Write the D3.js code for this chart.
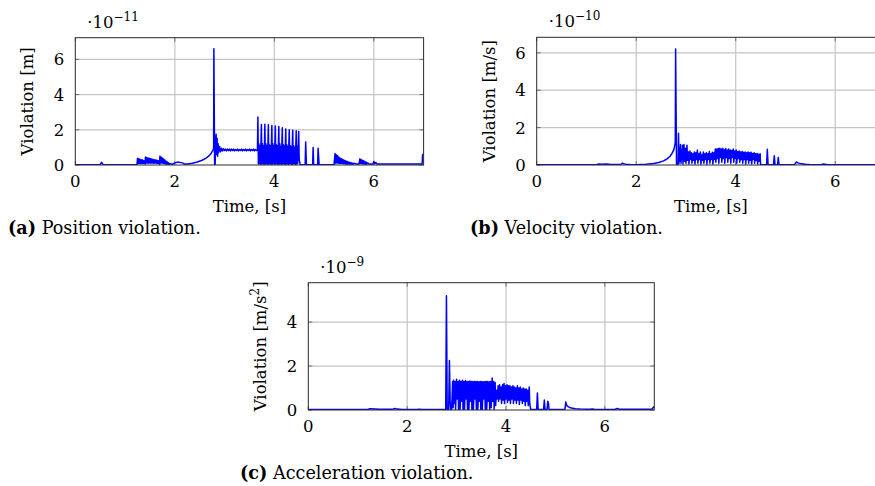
<!DOCTYPE html>
<html>
<head>
<meta charset="utf-8">
<script src="https://cdn.jsdelivr.net/npm/d3@7"></script>
<style>
  html, body { margin: 0; padding: 0; background: #fff; }
  svg text { font-family: "DejaVu Serif", serif; fill: #000; }
</style>
</head>
<body>
<div id="chart"></div>
<script>
// time ticks shared by the three panels
var timeTicks = [0, 2, 4, 6];

// (a) position violation, values in 1e-11 m
var positionTicks = [0, 2, 4, 6];
var positionData = [
  [0, 0.02], [0.5, 0.02], [0.53, 0.15], [0.56, 0.02], [1.24, 0.02],
  [1.25, 0.38], [1.26, 0.08], [1.275, 0.35], [1.285, 0.1], [1.3, 0.33], [1.31, 0.08], [1.325, 0.3], [1.335, 0.1],
  [1.35, 0.28], [1.36, 0.08], [1.375, 0.26], [1.385, 0.1], [1.40, 0.23], [1.405, 0.06], [1.41, 0.45], [1.42, 0.1],
  [1.435, 0.42], [1.445, 0.12], [1.46, 0.4], [1.47, 0.1], [1.485, 0.38], [1.495, 0.12], [1.51, 0.36], [1.52, 0.1],
  [1.535, 0.34], [1.545, 0.12], [1.56, 0.32], [1.57, 0.1], [1.585, 0.3], [1.595, 0.12], [1.61, 0.29], [1.62, 0.1],
  [1.635, 0.27], [1.645, 0.1], [1.66, 0.26], [1.67, 0.08], [1.685, 0.24], [1.695, 0.05], [1.70, 0.5], [1.71, 0.1],
  [1.725, 0.45], [1.735, 0.12], [1.75, 0.4], [1.76, 0.1], [1.775, 0.34], [1.785, 0.08], [1.80, 0.28], [1.81, 0.06],
  [1.825, 0.22], [1.835, 0.05], [1.85, 0.17], [1.86, 0.04], [1.875, 0.12], [1.89, 0.04], [1.91, 0.08], [1.95, 0.04],
  [2.0, 0.12], [2.05, 0.16], [2.1, 0.15], [2.15, 0.12], [2.2, 0.05], [2.25, 0.06], [2.35, 0.1], [2.45, 0.17],
  [2.55, 0.27], [2.62, 0.38], [2.68, 0.5], [2.72, 0.62], [2.76, 0.8], [2.78, 0.92], [2.785, 6.6], [2.80, 0.05],
  [2.81, 0.0], [2.82, 1.2], [2.83, 1.75], [2.84, 0.6], [2.85, 1.5], [2.86, 0.5], [2.87, 1.2], [2.88, 0.7],
  [2.9, 1.05], [2.92, 0.75], [2.94, 0.95], [2.96, 0.8], [2.98, 0.92], [3.0, 0.82], [3.02, 0.9], [3.04, 0.8],
  [3.06, 0.9], [3.08, 0.82], [3.1, 0.9], [3.12, 0.8], [3.14, 0.9], [3.16, 0.82], [3.18, 0.9], [3.2, 0.8],
  [3.22, 0.88], [3.24, 0.82], [3.26, 0.9], [3.28, 0.8], [3.3, 0.88], [3.32, 0.82], [3.34, 0.9], [3.36, 0.8],
  [3.38, 0.88], [3.4, 0.82], [3.42, 0.9], [3.44, 0.8], [3.46, 0.88], [3.48, 0.82], [3.5, 0.9], [3.52, 0.8],
  [3.54, 0.88], [3.56, 0.82], [3.58, 0.9], [3.6, 0.8], [3.62, 0.88], [3.64, 0.82], [3.66, 0.85],
  [3.67, 2.72], [3.68, 0.05], [3.69, 1.2], [3.70, 0.1], [3.71, 1.1], [3.72, 0.02], [3.73, 1.15],
  [3.74, 2.3], [3.75, 0.05], [3.76, 1.2], [3.77, 0.1], [3.78, 1.1], [3.79, 0.02], [3.80, 1.0],
  [3.81, 2.32], [3.82, 0.05], [3.83, 1.2], [3.84, 0.1], [3.85, 1.1], [3.86, 0.02], [3.87, 1.0],
  [3.88, 2.28], [3.89, 0.05], [3.90, 1.15], [3.91, 0.1], [3.92, 1.1], [3.93, 0.02], [3.94, 1.0],
  [3.95, 2.25], [3.96, 0.05], [3.97, 1.2], [3.98, 0.1], [3.99, 1.1], [4.00, 0.02], [4.01, 1.05],
  [4.02, 2.22], [4.03, 0.05], [4.04, 1.15], [4.05, 0.1], [4.06, 1.1], [4.07, 0.02], [4.08, 1.0],
  [4.09, 2.18], [4.10, 0.05], [4.11, 1.2], [4.12, 0.1], [4.13, 1.05], [4.14, 0.02], [4.15, 1.0],
  [4.16, 2.12], [4.17, 0.05], [4.18, 1.15], [4.19, 0.1], [4.20, 1.1], [4.21, 0.02], [4.22, 1.0],
  [4.23, 2.05], [4.24, 0.05], [4.25, 1.15], [4.26, 0.1], [4.27, 1.05], [4.28, 0.02], [4.29, 1.0],
  [4.30, 2.0], [4.31, 0.05], [4.32, 1.1], [4.33, 0.1], [4.34, 1.05], [4.35, 0.02], [4.36, 1.0],
  [4.37, 1.98], [4.38, 0.05], [4.39, 1.1], [4.40, 0.1], [4.41, 1.0], [4.42, 0.02], [4.43, 0.95],
  [4.44, 1.95], [4.45, 0.05], [4.46, 1.05], [4.47, 0.1], [4.48, 1.0], [4.49, 1.9], [4.50, 0.3],
  [4.52, 0.02], [4.62, 0.02], [4.63, 1.3], [4.645, 0.02], [4.77, 0.02], [4.78, 1.0], [4.79, 0.02],
  [4.87, 0.02], [4.88, 0.95], [4.90, 0.02], [5.2, 0.02],
  [5.22, 0.65], [5.23, 0.1], [5.245, 0.58], [5.255, 0.12], [5.27, 0.52], [5.28, 0.1], [5.295, 0.46], [5.305, 0.1],
  [5.32, 0.4], [5.33, 0.08], [5.345, 0.36], [5.355, 0.1], [5.37, 0.32], [5.38, 0.08], [5.395, 0.28], [5.405, 0.08],
  [5.42, 0.25], [5.43, 0.06], [5.445, 0.22], [5.455, 0.06], [5.47, 0.2], [5.48, 0.05], [5.5, 0.17], [5.51, 0.05],
  [5.53, 0.14], [5.54, 0.04], [5.56, 0.12], [5.58, 0.04], [5.6, 0.1], [5.65, 0.06], [5.7, 0.05],
  [5.72, 0.35], [5.73, 0.08], [5.745, 0.3], [5.755, 0.08], [5.77, 0.27], [5.78, 0.06], [5.795, 0.24], [5.805, 0.06],
  [5.82, 0.2], [5.83, 0.05], [5.85, 0.16], [5.86, 0.05], [5.88, 0.12], [5.9, 0.05], [5.95, 0.06], [5.98, 0.05],
  [6.0, 0.2], [6.02, 0.08], [6.04, 0.14], [6.06, 0.06], [6.1, 0.06], [6.3, 0.05], [6.6, 0.05], [6.97, 0.06],
  [6.98, 0.6], [7.0, 0.6]
];

// (b) velocity violation, values in 1e-10 m/s
var velocityTicks = [0, 2, 4, 6];
var velocityData = [
  [0, 0.01], [1.2, 0.01], [1.25, 0.05], [1.3, 0.04], [1.4, 0.05], [1.5, 0.03], [1.7, 0.04], [1.72, 0.1],
  [1.76, 0.06], [1.8, 0.04], [1.9, 0.02], [2.0, 0.02], [2.2, 0.04], [2.35, 0.08], [2.45, 0.13], [2.55, 0.22],
  [2.62, 0.33], [2.68, 0.47], [2.72, 0.62], [2.76, 0.85], [2.785, 1.2], [2.792, 6.2], [2.81, 0.02],
  [2.84, 0.02], [2.85, 1.7], [2.86, 0.1], [2.87, 0.9], [2.88, 0.2], [2.89, 1.1], [2.9, 0.1], [2.91, 0.8],
  [2.92, 0.3], [2.93, 1.05], [2.94, 0.05], [2.96, 1.1], [2.97, 0.2], [2.99, 0.9], [3.0, 0.1], [3.02, 1.05],
  [3.03, 0.25], [3.05, 0.7], [3.06, 0.05], [3.08, 0.75], [3.09, 0.3], [3.11, 0.65], [3.12, 0.1], [3.14, 0.6],
  [3.15, 0.25], [3.17, 0.7], [3.18, 0.05], [3.2, 0.65], [3.21, 0.3], [3.23, 0.8], [3.24, 0.1], [3.26, 0.6],
  [3.27, 0.3], [3.29, 0.7], [3.3, 0.05], [3.32, 0.55], [3.33, 0.25], [3.35, 0.7], [3.36, 0.1], [3.38, 0.6],
  [3.39, 0.3], [3.41, 0.65], [3.42, 0.05], [3.44, 0.6], [3.45, 0.3], [3.47, 0.72], [3.48, 0.1], [3.5, 0.6],
  [3.51, 0.3], [3.53, 0.68], [3.54, 0.05], [3.56, 0.65], [3.57, 0.3], [3.59, 0.85], [3.6, 0.15], [3.62, 0.85],
  [3.63, 0.35], [3.65, 0.88], [3.66, 0.1], [3.68, 0.9], [3.69, 0.4], [3.71, 0.85], [3.72, 0.15], [3.74, 0.9],
  [3.75, 0.35], [3.77, 0.82], [3.78, 0.1], [3.8, 0.88], [3.81, 0.4], [3.83, 0.8], [3.84, 0.15], [3.86, 0.85],
  [3.87, 0.35], [3.89, 0.8], [3.9, 0.1], [3.92, 0.78], [3.93, 0.4], [3.95, 0.85], [3.96, 0.15], [3.98, 0.75],
  [3.99, 0.35], [4.01, 0.8], [4.02, 0.1], [4.04, 0.72], [4.05, 0.35], [4.07, 0.75], [4.08, 0.15], [4.1, 0.7],
  [4.11, 0.3], [4.13, 0.72], [4.14, 0.1], [4.16, 0.68], [4.17, 0.3], [4.19, 0.7], [4.2, 0.05], [4.22, 0.65],
  [4.23, 0.3], [4.25, 0.7], [4.26, 0.1], [4.28, 0.65], [4.29, 0.25], [4.31, 0.68], [4.32, 0.05], [4.34, 0.62],
  [4.35, 0.3], [4.37, 0.65], [4.38, 0.1], [4.4, 0.6], [4.41, 0.25], [4.43, 0.62], [4.44, 0.05], [4.46, 0.58],
  [4.47, 0.2], [4.49, 0.6], [4.5, 0.02], [4.62, 0.02], [4.635, 0.84], [4.65, 0.02], [4.76, 0.02],
  [4.775, 0.5], [4.79, 0.02], [4.84, 0.02], [4.855, 0.4], [4.87, 0.02], [5.18, 0.02], [5.22, 0.16],
  [5.26, 0.1], [5.3, 0.08], [5.4, 0.04], [5.5, 0.02], [5.72, 0.02], [5.76, 0.05], [5.85, 0.02], [7.0, 0.01]
];

// (c) acceleration violation, values in 1e-9 m/s^2
var accelerationTicks = [0, 2, 4];
var accelerationData = [
  [0, 0.02], [1.2, 0.02], [1.25, 0.06], [1.35, 0.05], [1.45, 0.03], [1.7, 0.03], [1.75, 0.07], [1.8, 0.04],
  [1.9, 0.02], [2.2, 0.02], [2.25, 0.04], [2.3, 0.02], [2.78, 0.02], [2.795, 5.2], [2.81, 0.02], [2.84, 0.02],
  [2.855, 2.25], [2.87, 0.4], [2.88, 0.02], [2.9, 0.02], [2.92, 1.3], [2.93, 0.1], [2.94, 1.35], [2.95, 0.3],
  [2.97, 1.3], [2.98, 0.02], [3.0, 1.4], [3.01, 0.5], [3.03, 1.3], [3.04, 0.02], [3.06, 1.35], [3.07, 0.02],
  [3.09, 1.3], [3.1, 0.4], [3.12, 1.35], [3.13, 0.02], [3.15, 1.3], [3.16, 0.02], [3.18, 1.33], [3.19, 0.5],
  [3.21, 1.3], [3.22, 0.02], [3.24, 1.3], [3.25, 0.02], [3.27, 1.32], [3.28, 0.4], [3.3, 1.3], [3.31, 0.02],
  [3.33, 1.3], [3.34, 0.02], [3.36, 1.3], [3.37, 0.5], [3.39, 1.3], [3.4, 0.02], [3.42, 1.3], [3.43, 0.02],
  [3.45, 1.28], [3.46, 0.4], [3.48, 1.3], [3.49, 0.02], [3.51, 1.3], [3.52, 0.02], [3.54, 1.28], [3.55, 0.5],
  [3.57, 1.3], [3.58, 0.02], [3.6, 1.3], [3.61, 0.02], [3.63, 1.3], [3.64, 0.4], [3.66, 1.28], [3.67, 0.02],
  [3.69, 1.3], [3.7, 0.1], [3.72, 1.45], [3.73, 0.4], [3.75, 1.3], [3.76, 0.02], [3.78, 1.25], [3.79, 0.2],
  [3.81, 0.9], [3.82, 0.5], [3.84, 1.1], [3.85, 0.4], [3.87, 1.15], [3.88, 0.5], [3.9, 1.05], [3.91, 0.3],
  [3.93, 1.15], [3.94, 0.45], [3.96, 1.2], [3.97, 0.3], [3.99, 1.1], [4.0, 0.5], [4.02, 1.15], [4.03, 0.35],
  [4.05, 1.1], [4.06, 0.45], [4.08, 1.1], [4.09, 0.3], [4.11, 1.05], [4.12, 0.5], [4.14, 1.1], [4.15, 0.3],
  [4.17, 1.05], [4.18, 0.45], [4.2, 1.0], [4.21, 0.3], [4.23, 1.1], [4.24, 0.45], [4.26, 1.0], [4.27, 0.25],
  [4.29, 1.05], [4.3, 0.45], [4.32, 0.95], [4.33, 0.3], [4.35, 1.0], [4.36, 0.4], [4.38, 0.95], [4.39, 0.2],
  [4.41, 0.95], [4.42, 0.4], [4.44, 0.9], [4.45, 0.2], [4.47, 1.05], [4.48, 0.3], [4.5, 0.02], [4.62, 0.02],
  [4.635, 0.77], [4.65, 0.02], [4.76, 0.02], [4.775, 0.45], [4.79, 0.02], [4.83, 0.02], [4.845, 0.4],
  [4.86, 0.3], [4.87, 0.02], [5.19, 0.02], [5.21, 0.36], [5.23, 0.2], [5.26, 0.15], [5.3, 0.1], [5.4, 0.06],
  [5.5, 0.04], [5.7, 0.03], [5.75, 0.05], [5.8, 0.02], [6.2, 0.02], [6.25, 0.07], [6.3, 0.03], [6.95, 0.03],
  [6.99, 0.15], [7.0, 0.15]
];

var svg = d3.select("#chart").append("svg")
  .attr("width", 875)
  .attr("height", 486);

//------------------------------------------------------------------------------
function drawPanel(p) {
  var x = d3.scaleLinear().domain([0, 7]).range([p.left, p.right]);
  var y = d3.scaleLinear().domain([0, p.ymax]).range([p.bottom, p.top]);
  var g = svg.append("g");

  g.append("clipPath").attr("id", "clip-" + p.id)
    .append("rect")
      .attr("x", p.left).attr("y", p.top)
      .attr("width", p.right - p.left).attr("height", p.bottom - p.top);

  // grid
  g.append("g").selectAll("line.vx")
    .data(timeTicks.filter(function(d) { return d > 0; }))
    .enter().append("line")
      .attr("x1", function(d) { return x(d); }).attr("x2", function(d) { return x(d); })
      .attr("y1", p.top).attr("y2", p.bottom)
      .attr("stroke", "#c4c4c4").attr("stroke-width", 1.2);
  g.append("g").selectAll("line.hy")
    .data(p.yticks.filter(function(d) { return d > 0; }))
    .enter().append("line")
      .attr("x1", p.left).attr("x2", p.right)
      .attr("y1", function(d) { return y(d); }).attr("y2", function(d) { return y(d); })
      .attr("stroke", "#c4c4c4").attr("stroke-width", 1.2);

  // inward ticks on all sides
  var tk = g.append("g").attr("stroke", "#707070").attr("stroke-width", 1);
  timeTicks.forEach(function(d) {
    tk.append("line").attr("x1", x(d)).attr("x2", x(d)).attr("y1", p.bottom).attr("y2", p.bottom - 4);
    tk.append("line").attr("x1", x(d)).attr("x2", x(d)).attr("y1", p.top).attr("y2", p.top + 4);
  });
  p.yticks.forEach(function(d) {
    tk.append("line").attr("x1", p.left).attr("x2", p.left + 4).attr("y1", y(d)).attr("y2", y(d));
    tk.append("line").attr("x1", p.right).attr("x2", p.right - 4).attr("y1", y(d)).attr("y2", y(d));
  });

  // the signal
  var line = d3.line()
    .x(function(d) { return x(d[0]); })
    .y(function(d) { return y(d[1]); });
  g.append("path")
    .datum(p.data)
    .attr("clip-path", "url(#clip-" + p.id + ")")
    .attr("d", line)
    .attr("fill", "none")
    .attr("stroke", "#0000ff")
    .attr("stroke-width", 1.5)
    .attr("stroke-linejoin", "round");

  // axis box
  g.append("rect")
    .attr("x", p.left).attr("y", p.top)
    .attr("width", p.right - p.left).attr("height", p.bottom - p.top)
    .attr("fill", "none").attr("stroke", "#2a2a2a").attr("stroke-width", 1);

  // tick labels
  g.append("g").selectAll("text")
    .data(timeTicks).enter().append("text")
      .attr("x", function(d) { return x(d); })
      .attr("y", p.bottom + 22)
      .attr("text-anchor", "middle")
      .style("font-size", "16.5px")
      .text(function(d) { return d; });
  g.append("g").selectAll("text")
    .data(p.yticks).enter().append("text")
      .attr("x", p.left - 11)
      .attr("y", function(d) { return y(d) + 6; })
      .attr("text-anchor", "end")
      .style("font-size", "16.5px")
      .text(function(d) { return d; });

  // exponent
  var ex = g.append("text")
    .attr("x", p.left + 12).attr("y", p.top - 10)
    .style("font-size", "16.5px");
  ex.append("tspan").text("\u00b710");
  ex.append("tspan").attr("dy", -7).style("font-size", "12px").text("\u2212" + p.exponent);

  // axis labels
  g.append("text")
    .attr("x", (p.left + p.right) / 2)
    .attr("y", p.bottom + 47)
    .attr("text-anchor", "middle")
    .style("font-size", "16.5px")
    .text("Time, [s]");

  var yl = g.append("text")
    .attr("transform", "translate(" + (p.left - 42) + "," + ((p.top + p.bottom) / 2) + ") rotate(-90)")
    .attr("text-anchor", "middle")
    .style("font-size", "16.5px");
  yl.append("tspan").text(p.ylabel);
  if (p.ysup) {
    yl.append("tspan").attr("dy", -7).style("font-size", "12px").text(p.ysup);
    yl.append("tspan").attr("dy", 7).text("]");
  }

  // caption
  var cap = g.append("text")
    .attr("x", p.capX).attr("y", p.capY)
    .style("font-size", "17.6px");
  cap.append("tspan").style("font-weight", "bold").text(p.tag);
  cap.append("tspan").text(" " + p.caption);
}

drawPanel({
  id: "a", left: 75.3, right: 423.6, top: 37.7, bottom: 165, ymax: 7.23,
  yticks: positionTicks, data: positionData, exponent: "11",
  ylabel: "Violation [m]", tag: "(a)", caption: "Position violation.", capX: 8, capY: 234
});
drawPanel({
  id: "b", left: 536.7, right: 885, top: 37.3, bottom: 165, ymax: 6.83,
  yticks: velocityTicks, data: velocityData, exponent: "10",
  ylabel: "Violation [m/s]", tag: "(b)", caption: "Velocity violation.", capX: 470, capY: 234
});
drawPanel({
  id: "c", left: 308.3, right: 654.3, top: 282.7, bottom: 410, ymax: 5.79,
  yticks: accelerationTicks, data: accelerationData, exponent: "9",
  ylabel: "Violation [m/s", ysup: "2", tag: "(c)", caption: "Acceleration violation.", capX: 240, capY: 479
});
</script>
</body>
</html>
